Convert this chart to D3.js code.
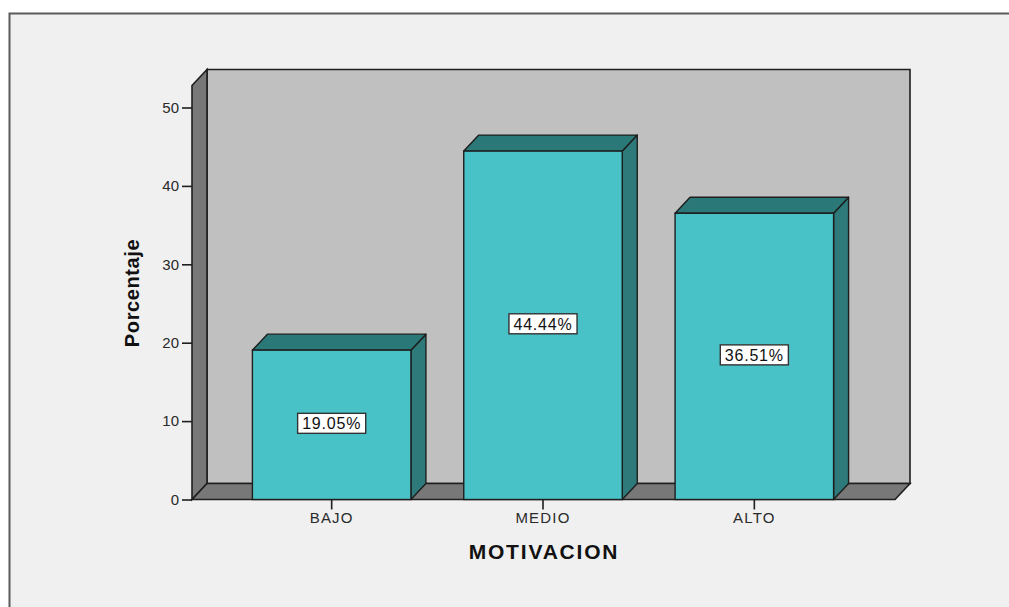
<!DOCTYPE html>
<html>
<head>
<meta charset="utf-8">
<script src="https://cdn.jsdelivr.net/npm/d3@7/dist/d3.min.js"></script>
<style>
  html, body { margin: 0; padding: 0; background: #ffffff; }
  svg { display: block; }
  text { font-family: "Liberation Sans", Arial, sans-serif; }
</style>
</head>
<body>
<svg id="chart" width="1009" height="607"></svg>
<script>
// Motivation levels and their share of respondents (%)
const categories = ["BAJO", "MEDIO", "ALTO"];
const percentages = [19.05, 44.44, 36.51];
const yTicks = [0, 10, 20, 30, 40, 50];

const W = 1009, H = 607;
const svg = d3.select("#chart");

// depth offset of the 3D box
const dx = 15, dy = 16;

// plot frame (front plane)
const left = 192, right = 895, bottom = 499.5;
const y = d3.scaleLinear().domain([0, 50]).range([bottom, 107.5]);
const yTop = 52.8;

const x = d3.scaleBand()
  .domain(categories)
  .range([226, 860])
  .paddingInner(0.25)
  .paddingOuter(0.125);

const stroke = "#1e1e1e";
const colors = {
  bg: "#f0f0f0",
  wall: "#c0c0c0",
  side: "#787878",
  front: "#48c2c6",
  top: "#2b7878",
  edge: "#2e7a7a"
};

// outer panel
svg.append("rect")
  .attr("x", 9.5).attr("y", 13.5)
  .attr("width", W).attr("height", H)
  .attr("fill", colors.bg)
  .attr("stroke", "#5a5a5a").attr("stroke-width", 2);

const poly = pts => pts.map(p => p.join(",")).join(" ");

// back wall
svg.append("polygon")
  .attr("points", poly([
    [left + dx, y(yTop) - dy], [right + dx, y(yTop) - dy],
    [right + dx, bottom - dy], [left + dx, bottom - dy]
  ]))
  .attr("fill", colors.wall).attr("stroke", stroke).attr("stroke-width", 1.6);

// left wall
svg.append("polygon")
  .attr("points", poly([
    [left, y(yTop)], [left + dx, y(yTop) - dy],
    [left + dx, bottom - dy], [left, bottom]
  ]))
  .attr("fill", colors.side).attr("stroke", stroke).attr("stroke-width", 1.6);

// floor
svg.append("polygon")
  .attr("points", poly([
    [left, bottom], [left + dx, bottom - dy],
    [right + dx, bottom - dy], [right, bottom]
  ]))
  .attr("fill", colors.side).attr("stroke", stroke).attr("stroke-width", 1.6);

// bars
const bars = svg.append("g").selectAll("g")
  .data(categories.map((c, i) => ({ cat: c, value: percentages[i] })))
  .join("g");

bars.append("polygon") // right side
  .attr("points", d => {
    const x1 = x(d.cat) + x.bandwidth(), t = y(d.value);
    return poly([[x1, t], [x1 + dx, t - dy], [x1 + dx, bottom - dy], [x1, bottom]]);
  })
  .attr("fill", colors.edge).attr("stroke", stroke).attr("stroke-width", 1.4)
  .attr("stroke-linejoin", "round");

bars.append("polygon") // top face
  .attr("points", d => {
    const x0 = x(d.cat), x1 = x0 + x.bandwidth(), t = y(d.value);
    return poly([[x0, t], [x0 + dx, t - dy], [x1 + dx, t - dy], [x1, t]]);
  })
  .attr("fill", colors.top).attr("stroke", stroke).attr("stroke-width", 1.4)
  .attr("stroke-linejoin", "round");

bars.append("rect") // front face
  .attr("x", d => x(d.cat))
  .attr("y", d => y(d.value))
  .attr("width", x.bandwidth())
  .attr("height", d => bottom - y(d.value))
  .attr("fill", colors.front).attr("stroke", stroke).attr("stroke-width", 1.4);

// value labels in white boxes
bars.each(function (d) {
  const g = d3.select(this);
  const cx = x(d.cat) + x.bandwidth() / 2;
  const cy = y(d.value / 2) - 1.5;
  const box = g.append("rect");
  const t = g.append("text")
    .attr("x", cx).attr("y", cy + 6)
    .attr("text-anchor", "middle")
    .attr("font-size", 16)
    .attr("letter-spacing", 0.8)
    .attr("fill", "#111")
    .text(d.value.toFixed(2) + "%");
  const bb = t.node().getBBox();
  box.attr("x", cx - bb.width / 2 - 4.5)
    .attr("y", cy - 10)
    .attr("width", bb.width + 9)
    .attr("height", 20)
    .attr("fill", "#ffffff")
    .attr("stroke", "#333").attr("stroke-width", 1.4);
});

// y axis
const yAxis = svg.append("g")
  .attr("transform", `translate(${left},0)`)
  .call(d3.axisLeft(y).tickValues(yTicks).tickSize(10).tickSizeOuter(0).tickPadding(3));
yAxis.select(".domain").remove();
yAxis.selectAll(".tick line").attr("stroke", stroke).attr("stroke-width", 1.6);
yAxis.selectAll(".tick text")
  .attr("font-family", "Liberation Sans, Arial, sans-serif")
  .attr("font-size", 15).attr("fill", "#2a2a2a");

// x axis
const xAxis = svg.append("g")
  .attr("transform", `translate(0,${bottom})`)
  .call(d3.axisBottom(x).tickSize(10).tickSizeOuter(0).tickPadding(3));
xAxis.select(".domain").remove();
xAxis.selectAll(".tick line").attr("stroke", stroke).attr("stroke-width", 1.6);
xAxis.selectAll(".tick text")
  .attr("font-family", "Liberation Sans, Arial, sans-serif")
  .attr("font-size", 15).attr("letter-spacing", 1.2).attr("fill", "#2a2a2a");

// axis titles
svg.append("text")
  .attr("transform", `translate(139,293) rotate(-90)`)
  .attr("text-anchor", "middle")
  .attr("font-size", 20).attr("font-weight", "bold")
  .attr("letter-spacing", 0.6)
  .attr("fill", "#111")
  .text("Porcentaje");

svg.append("text")
  .attr("x", 544).attr("y", 559)
  .attr("text-anchor", "middle")
  .attr("font-size", 21).attr("font-weight", "bold")
  .attr("letter-spacing", 1.8)
  .attr("fill", "#111")
  .text("MOTIVACION");
</script>
</body>
</html>
